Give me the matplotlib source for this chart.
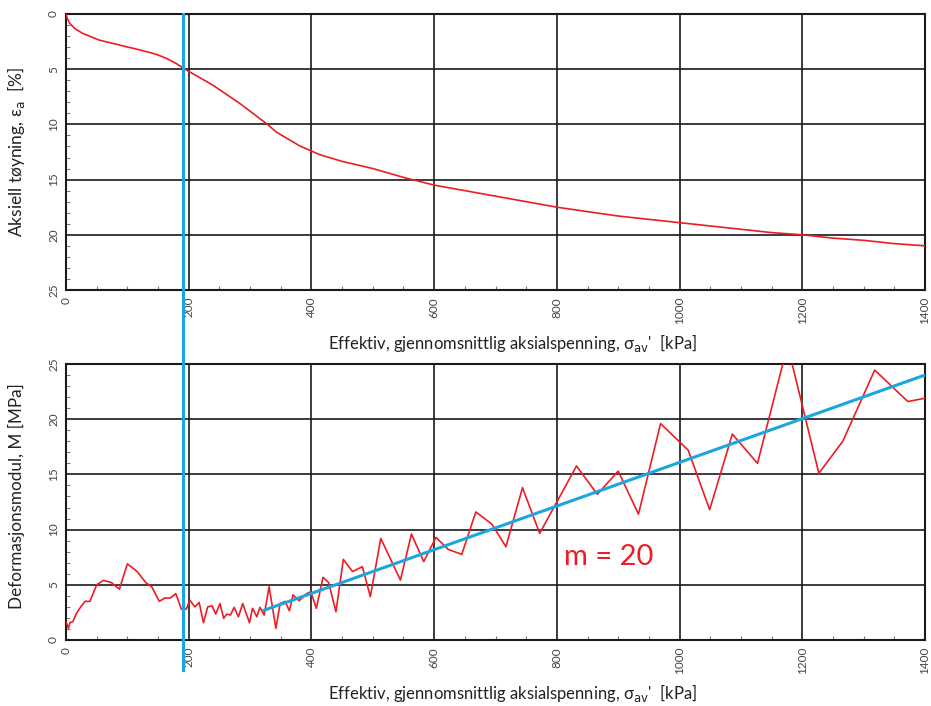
import matplotlib
matplotlib.use("Agg")
import matplotlib.pyplot as plt
from matplotlib.lines import Line2D
from matplotlib.ticker import MultipleLocator
import matplotlib.transforms as mtransforms

plt.rcParams['font.family'] = ['Lato', 'DejaVu Sans']

# Top panel: axial strain vs effective stress
strain_x = [0, 2, 6, 15, 27, 54, 98, 120, 147, 165, 180, 196, 239, 283, 326, 343,
            381, 414, 450, 500, 550, 600, 650, 700, 750, 800, 850, 900, 950, 1000,
            1050, 1100, 1150, 1200, 1250, 1300, 1350, 1400]
strain_y = [0, 0.4, 0.84, 1.35, 1.75, 2.36, 2.96, 3.25, 3.65, 4.05, 4.5, 5.07, 6.43,
            8.09, 9.9, 10.7, 11.95, 12.75, 13.35, 14.0, 14.8, 15.5, 16.0, 16.5, 17.0,
            17.5, 17.9, 18.3, 18.6, 18.9, 19.2, 19.5, 19.8, 20.0, 20.3, 20.5, 20.8,
            21.0]

# Bottom panel: deformation modulus vs effective stress
mod_x = [0, 4, 6.5, 11, 17, 24, 31, 39, 50, 61, 74, 87, 100, 116, 130, 140, 152,
         161, 170, 179, 188, 196, 202, 210, 217, 224, 231, 238, 244, 251, 257,
         262, 268, 274, 281, 288, 299, 304, 311, 316, 323, 331, 342, 349, 357,
         364, 370, 380, 392, 399, 408, 419, 428, 440, 452, 467, 483, 496, 513,
         545, 563, 583, 603, 623, 645, 668, 694, 717, 744, 772, 832, 866, 900,
         933, 969, 1014, 1049, 1086, 1127, 1176, 1227, 1266, 1318, 1372, 1400]
mod_y = [1.66, 1.06, 1.57, 1.66, 2.4, 3.0, 3.5, 3.5, 5.0, 5.4, 5.2, 4.6, 6.9, 6.2,
         5.2, 4.8, 3.5, 3.8, 3.8, 4.2, 2.8, 2.8, 3.6, 3.0, 3.4, 1.57, 3.0, 3.1,
         2.35, 3.3, 1.96, 2.35, 2.26, 2.96, 2.1, 3.3, 1.57, 2.87, 2.1, 2.96,
         2.26, 4.83, 1.06, 3.3, 3.5, 2.65, 4.08, 3.56, 4.2, 4.37, 2.87, 5.68,
         5.2, 2.56, 7.3, 6.2, 6.64, 3.92, 9.2, 5.43, 9.6, 7.1, 9.3, 8.2, 7.76,
         11.6, 10.5, 8.45, 13.8, 9.66, 15.76, 13.2, 15.3, 11.4, 19.6, 17.2,
         11.8, 18.65, 16.0, 26.7, 15.1, 18.0, 24.45, 21.6, 21.9]

# Fitted line (m = 20)
fit_x = [323, 1400]
fit_y = [2.7, 24.0]

# Reference stress (vertical line)
ref_stress = 190

x_ticks = [0, 200, 400, 600, 800, 1000, 1200, 1400]
y_ticks = [0, 5, 10, 15, 20, 25]

xlabel = "Effektiv, gjennomsnittlig aksialspenning, σ$_{\\mathrm{av}}$'  [kPa]"
ylabel_top = "Aksiell tøyning, ε$_{\\mathrm{a}}$  [%]"
ylabel_bot = "Deformasjonsmodul, M [MPa]"

RED = '#ee1c25'
BLUE = '#1aa6de'
GRID = '#1a1a1a'
TICKC = '#444444'

fig = plt.figure(figsize=(9.31, 7.06), dpi=100)
W, H = 931, 706
def rect(l, t, r, b):
    return [l / W, 1 - b / H, (r - l) / W, (b - t) / H]

ax1 = fig.add_axes(rect(66, 14, 925, 290))
ax2 = fig.add_axes(rect(66, 364, 925, 640))

for ax in (ax1, ax2):
    ax.set_xlim(0, 1400)
    ax.set_ylim(0, 25)
    ax.set_xticks(x_ticks)
    ax.set_yticks(y_ticks)
    ax.xaxis.set_minor_locator(MultipleLocator(50))
    ax.yaxis.set_minor_locator(MultipleLocator(1))
    ax.grid(True, which='major', color=GRID, linewidth=1.2)
    ax.tick_params(which='major', length=0, labelsize=8.5, labelcolor=TICKC, pad=5)
    ax.tick_params(which='minor', direction='in', length=3, color='#777777', width=0.8)
    for lab in ax.get_xticklabels():
        lab.set_rotation(90)
        lab.set_va('top')
        lab.set_ha('center')
    for lab in ax.get_yticklabels():
        lab.set_rotation(90)
        lab.set_va('center')
    for sp in ax.spines.values():
        sp.set_color(GRID)
        sp.set_linewidth(1.5)
    ax.set_axisbelow(True)
    ax.set_xlabel(xlabel, fontsize=12, color='#222222')
    ax.xaxis.set_label_coords(0.52, -42 / 276)

ax1.invert_yaxis()
ax1.plot(strain_x, strain_y, color=RED, linewidth=1.2, zorder=3)
ax1.set_ylabel(ylabel_top, fontsize=12.5, color='#222222')
ax1.yaxis.set_label_coords(-39 / 859, 0.5)

ax2.plot(mod_x, mod_y, color=RED, linewidth=1.2, zorder=3)
ax2.plot(fit_x, fit_y, color=BLUE, linewidth=2.2, zorder=4)
ax2.set_ylabel(ylabel_bot, fontsize=12.3, color='#222222')
ax2.yaxis.set_label_coords(-41 / 859, 0.52)
ax2.text(812, 7.5, "m = 20", color=RED, fontsize=21, ha='left', va='center',
         family=['Lato', 'DejaVu Sans'])

trans = mtransforms.blended_transform_factory(ax1.transData, fig.transFigure)
vline = Line2D([ref_stress, ref_stress], [1 - 14 / H, 1 - 670 / H], transform=trans,
               color=BLUE, linewidth=2.2, zorder=10, clip_on=False)
fig.add_artist(vline)

fig.savefig("out.png", dpi=100)
